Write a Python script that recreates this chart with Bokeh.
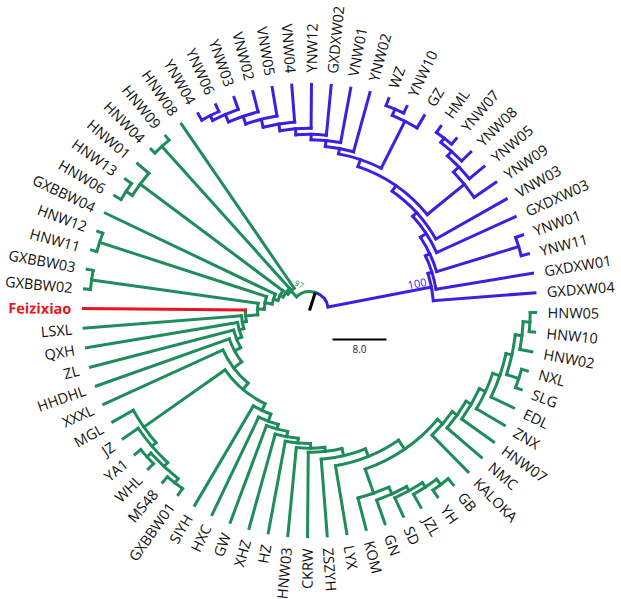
import math
from bokeh.plotting import figure
from bokeh.models import Range1d, ColumnDataSource
from bokeh.embed import file_html
from bokeh.resources import INLINE
from bokeh.core.properties import value

# ---------------- data ----------------
# Newick-like strings: leaves in counter-clockwise order; the number after
# each ")" is that node's distance from the tree centre (scale units).
blue_clade = ("(GXDXW04,(GXDXW01,((YNW11,YNW01)32.4,(GXDXW03,(VNW03,"
              "((YNW09,(YNW05,(YNW08,(YNW07,HML)32.4)31.6)30.7)29.6,"
              "((GZ,(YNW10,WZ)32.4)31.4,(YNW02,(VNW01,(GXDXW02,(YNW12,(VNW04,"
              "(VNW05,(VNW02,(YNW03,(YNW06,YNW04)32.4)31.6)30.4)29.2)28.0)27.0)"
              "26.1)25.3)24.4)23.6)22.5)21.5)20.7)19.7)19.0)18.4")
green_backbone = ("(HNW08,((HNW09,HNW04)32.7,((HNW01,(HNW13,HNW06)32.4)31.3,"
                  "(GXBBW04,((HNW12,HNW11)32.7,((GXBBW03,GXBBW02)32.6,"
                  "(Feizixiao,(LSXL,(QXH,(ZL,(HHDHL,(XXXL,(MGLCLADE,LOWERCLADE)15.3)"
                  "14.1)12.6)11.6)10.8)10.1)9.5)7.7)6.7)5.6)4.9)4.4)4.0")
mgl_clade = "(MGL,(JZ,((YA1,WHL)32.4,(MS48,GXBBW01)32.4)31.6)30.8)30.0"
lower_clade = ("(SIYH,(HXC,(GW,(XHZ,(HZ,(HNW03,(CKRW,(ZSZYH,(LYX,(KOMCLADE,"
               "(KALOKA,(NMC,(HNW07,(ZNX,(EDL,((SLG,NXL)32.6,(HNW02,(HNW10,HNW05)32.7)"
               "31.7)30.7)29.8)28.7)27.7)26.8)25.9)24.9)23.3)22.1)21.0)20.4)19.7)19.0)"
               "18.2)17.5)16.4")
kom_clade = "(KOM,(GN,(SD,(JZL,(YH,GB)32.3)31.3)30.5)29.8)28.7"
root_depth = 2.8
tip_depth = 33.5
support_values = [100, 97]      # blue clade stem, green clade stem
scale_bar_value = 8.0
highlight_tip = "Feizixiao"
first_tip_angle = 4.5           # degrees

# ---------------- style ----------------
GREEN = "#1f8c5b"
BLUE = "#3d1fe2"
RED = "#e8161d"
PX = 6.75                       # pixels per scale unit
LW = 3

green_clade = green_backbone.replace("MGLCLADE", mgl_clade).replace(
    "LOWERCLADE", lower_clade.replace("KOMCLADE", kom_clade))


def parse(s):
    pos = 0

    def node():
        nonlocal pos
        if s[pos] == "(":
            pos += 1
            kids = [node()]
            while s[pos] == ",":
                pos += 1
                kids.append(node())
            pos += 1  # ')'
            st = pos
            while pos < len(s) and s[pos] not in ",()":
                pos += 1
            return {"name": None, "depth": float(s[st:pos]), "kids": kids}
        st = pos
        while pos < len(s) and s[pos] not in ",()":
            pos += 1
        return {"name": s[st:pos], "depth": tip_depth, "kids": []}

    return node()


blue = parse(blue_clade)
green = parse(green_clade)
root = {"name": None, "depth": root_depth, "kids": [blue, green]}


def set_color(n, c):
    n["color"] = RED if n["name"] == highlight_tip else c
    for k in n["kids"]:
        set_color(k, c)


set_color(blue, BLUE)
set_color(green, GREEN)

leaves = []


def collect(n):
    if not n["kids"]:
        leaves.append(n)
    for k in n["kids"]:
        collect(k)


collect(root)
step = 360.0 / len(leaves)
for i, lf in enumerate(leaves):
    lf["angle"] = first_tip_angle + i * step


def set_angle(n):
    if n["kids"]:
        for k in n["kids"]:
            set_angle(k)
        n["angle"] = (n["kids"][0]["angle"] + n["kids"][-1]["angle"]) / 2.0


set_angle(root)


def pol(r, a_deg):
    a = math.radians(a_deg)
    return r * math.cos(a), r * math.sin(a)


seg = dict(x0=[], y0=[], x1=[], y1=[], c=[])
arc = dict(r=[], a0=[], a1=[], c=[])


def walk(n, parent):
    if parent is not None:
        x0, y0 = pol(parent["depth"] * PX, n["angle"])
        x1, y1 = pol(n["depth"] * PX, n["angle"])
        seg["x0"].append(x0); seg["y0"].append(y0)
        seg["x1"].append(x1); seg["y1"].append(y1)
        seg["c"].append(n["color"])
    if n["kids"] and parent is not None:
        arc["r"].append(n["depth"] * PX)
        arc["a0"].append(math.radians(n["kids"][0]["angle"]))
        arc["a1"].append(math.radians(n["kids"][-1]["angle"]))
        arc["c"].append(n["color"])
    for k in n["kids"]:
        walk(k, n)


walk(root, None)
# root arc, half in each clade colour
rr = root_depth * PX
arc["r"] += [rr, rr]
arc["a0"] += [math.radians(blue["angle"]), math.radians(root["angle"])]
arc["a1"] += [math.radians(root["angle"]), math.radians(green["angle"])]
arc["c"] += [BLUE, GREEN]

p = figure(width=621, height=599, x_range=Range1d(-309, 312), y_range=Range1d(-289, 310),
           output_backend="svg", toolbar_location=None, min_border=0,
           x_axis_type=None, y_axis_type=None)
p.grid.visible = False
p.outline_line_color = None
p.background_fill_color = "white"

p.arc(x=0, y=0, radius="r", start_angle="a0", end_angle="a1", direction="anticlock",
      line_color="c", line_width=LW, line_cap="square", source=ColumnDataSource(arc))
p.segment(x0="x0", y0="y0", x1="x1", y1="y1", line_color="c", line_width=LW,
          line_cap="square", source=ColumnDataSource(seg))
# root stem
rx, ry = pol(root_depth * PX, root["angle"])
p.segment(x0=[0], y0=[0], x1=[rx], y1=[ry], line_color="black", line_width=LW)

# tip labels
LR = tip_depth * PX + 12
right = dict(x=[], y=[], t=[], a=[], c=[], f=[])
left = dict(x=[], y=[], t=[], a=[], c=[], f=[])
for lf in leaves:
    x, y = pol(LR, lf["angle"])
    a = lf["angle"] % 360
    hl = lf["name"] == highlight_tip
    if math.cos(math.radians(a)) >= 0:
        d, ang = right, math.radians(a)
    else:
        d, ang = left, math.radians(a - 180)
    d["x"].append(x); d["y"].append(y); d["t"].append(lf["name"]); d["a"].append(ang)
    d["c"].append(RED if hl else "#111111"); d["f"].append("bold" if hl else "normal")

for d, al in ((right, "left"), (left, "right")):
    p.text(x="x", y="y", text="t", angle="a", text_color="c", text_font_style="f",
           text_align=al, text_baseline="middle", text_font=value("Open Sans"),
           text_font_size="14.5px", source=ColumnDataSource(d))

# support values
bx, by = pol(blue["depth"] * PX - 4, blue["angle"])
nx, ny = -math.sin(math.radians(blue["angle"])) * 2, math.cos(math.radians(blue["angle"])) * 2
p.text(x=[bx + nx], y=[by + ny], text=[str(support_values[0])],
       angle=[math.radians(blue["angle"])], text_align="right", text_baseline="bottom",
       text_color=BLUE, text_font=value("Open Sans"), text_font_size="11px")
gx, gy = pol(root_depth * PX + 9, 112)
p.text(x=[gx], y=[gy], text=[str(support_values[1])], angle=[-0.45],
       text_align="center", text_baseline="middle", text_color=GREEN,
       text_font=value("Open Sans"), text_font_size="8px")

# scale bar
sb_x0, sb_y = 23, -29
p.segment(x0=[sb_x0], y0=[sb_y], x1=[sb_x0 + scale_bar_value * PX], y1=[sb_y],
          line_color="black", line_width=2)
p.text(x=[sb_x0 + scale_bar_value * PX / 2], y=[sb_y - 5], text=["%.1f" % scale_bar_value],
       text_align="center", text_baseline="top", text_color="#222222",
       text_font=value("Open Sans"), text_font_size="10px")

open("out.html", "w").write(file_html(p, INLINE))
